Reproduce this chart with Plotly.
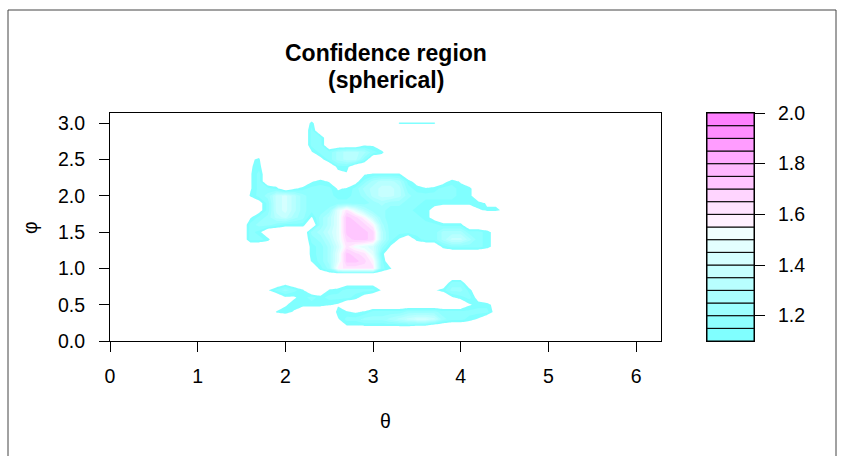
import math
import plotly.graph_objects as go

# ---- data -------------------------------------------------------------
# grid of the confidence statistic over theta (columns) and phi (rows)
theta_grid = [1.4, 1.5, 1.6, 1.7, 1.8, 1.9, 2.0, 2.1, 2.2, 2.3, 2.4, 2.5,
              2.6, 2.7, 2.8, 2.9, 3.0, 3.1, 3.2, 3.3, 3.4, 3.5, 3.6, 3.7,
              3.8, 3.9, 4.0, 4.1, 4.2, 4.3, 4.4, 4.5, 4.6, 4.7]
phi_grid = [3.1, 3.0, 2.9, 2.8, 2.7, 2.6, 2.5, 2.4, 2.3, 2.2, 2.1, 2.0,
            1.9, 1.8, 1.7, 1.6, 1.5, 1.4, 1.3, 1.2, 1.1, 1.0, 0.9, 0.8,
            0.7, 0.6, 0.5, 0.4, 0.3, 0.2, 0.1, 0.0]

# one character per grid value (rows listed from phi = 3.1 down to 0.0)
stat_rows = [
    "..................................",
    ".........a.........-----..........",
    ".........b........................",
    ".........bb.......................",
    ".........bb....::.................",
    "...,.....:bbdeedba................",
    "..:-......,bdeeb..................",
    "..:a........aa....................",
    "..:b........,:.:----..............",
    "..:b.....:a:..,bdeeda,..,a:.......",
    "..:bba.:abbb:-bdeffeba-abbaa......",
    "..-bcfgecbbbaabceffecbbbbbaa......",
    "...,bfgecbbbbbbbcdccbbaaaaaaa::...",
    "...,bfgecbbchkheccbbbaa,....:--:..",
    "..:bcefdc:cehmljfcbbbba,..........",
    "..bccbaaa.cehmmljdbbbbbbaaa.......",
    "..ba.....cdfhmmmlebbbbbbdddbba,...",
    "..bba....bcehlmmleb:.abbdffdba,...",
    ".........abdgkihgc:.....abbbba,...",
    ".........abdhmlkha................",
    ".........-bdhmmljb................",
    "..........acjkkkkb-...............",
    "............_____.................",
    "......,......,,,,........bb.......",
    "....:bcb-..-abbbb:.....:acca......",
    "......::ababbba,.........:ab,.....",
    "......:aaaa-:..............:aa,...",
    ".....-a:....a-:-bbbbccccbbbbbb,...",
    "............:bbcccdefggfcbba:.....",
    ".............::::::::,,...........",
    "..................................",
    "..................................",
]

stat_code = {"_": 0.85, ".": 1.00, ",": 1.06, ":": 1.09, "-": 1.11,
             "a": 1.13, "b": 1.17, "c": 1.22, "d": 1.27, "e": 1.32,
             "f": 1.37, "g": 1.42, "h": 1.47, "i": 1.52, "j": 1.57,
             "k": 1.62, "l": 1.67, "m": 1.72}

# filled-contour levels and their colours (cm.colors style)
levels = [1.10, 1.15, 1.20, 1.25, 1.30, 1.35, 1.40, 1.45, 1.50, 1.55,
          1.60, 1.65, 1.70, 1.75, 1.80, 1.85, 1.90, 1.95, 2.00]
level_colors = ["#80FFFF", "#8EFFFF", "#9CFFFF", "#AAFFFF", "#B8FFFF",
                "#C6FFFF", "#D5FFFF", "#E3FFFF", "#F1FFFF", "#FFF1FF",
                "#FFE3FF", "#FFD5FF", "#FFC6FF", "#FFB8FF", "#FFAAFF",
                "#FF9CFF", "#FF8EFF", "#FF80FF"]

x_ticks = [0, 1, 2, 3, 4, 5, 6]
y_ticks = [0.0, 0.5, 1.0, 1.5, 2.0, 2.5, 3.0]
key_ticks = [1.2, 1.4, 1.6, 1.8, 2.0]

# ---- build ------------------------------------------------------------
for row in stat_rows:
    assert len(row) == len(theta_grid), row
assert len(stat_rows) == len(phi_grid)

z = [[stat_code[ch] for ch in row] for row in stat_rows][::-1]
phi = phi_grid[::-1]

step = round(levels[1] - levels[0], 10)
n_bands = len(levels) + 1          # below first level .. above last level
band_colors = ["#FFFFFF"] + level_colors + [level_colors[-1]]
colorscale = [[k / (n_bands - 1), c] for k, c in enumerate(band_colors)]

FONT = "Liberation Sans, Arial, sans-serif"
W, H = 843, 456
ML, MR, MT, MB = 110, 89, 113, 115
PW, PH = W - ML - MR, H - MT - MB


def px_x(px):
    return (px - ML) / PW


def px_y(py):
    return (H - MB - py) / PH


fig = go.Figure()

fig.add_trace(go.Contour(
    x=theta_grid, y=phi, z=z,
    contours=dict(start=levels[0], end=levels[-1], size=step,
                  coloring="fill", showlines=False),
    line=dict(width=0, smoothing=0),
    colorscale=colorscale, showscale=False, hoverinfo="skip",
))

fig.add_trace(go.Bar(
    x=[0] * (len(levels) - 1),
    y=[round(hi - lo, 10) for lo, hi in zip(levels[:-1], levels[1:])],
    base=levels[:-1], width=1,
    marker=dict(color=level_colors, line=dict(color="black", width=1)),
    xaxis="x2", yaxis="y2", showlegend=False, hoverinfo="skip",
))

axis_common = dict(
    ticks="outside", ticklen=10, tickwidth=1, tickcolor="black",
    showline=True, mirror=True, linecolor="black", linewidth=1,
    showgrid=False, zeroline=False,
    tickfont=dict(family=FONT, size=19.5, color="black"),
)

fig.update_layout(
    width=W, height=H,
    margin=dict(l=ML, r=MR, t=MT, b=MB, pad=0),
    paper_bgcolor="white", plot_bgcolor="white",
    barmode="overlay", showlegend=False,
    font=dict(family=FONT, color="black"),
    xaxis=dict(domain=[0, px_x(661)], range=[0, 2 * math.pi],
               tickvals=x_ticks, ticklabelstandoff=8, **axis_common),
    yaxis=dict(domain=[0, 1], range=[0, math.pi],
               tickvals=y_ticks, ticktext=[f"{v:.1f}" for v in y_ticks],
               ticklabelstandoff=10, **axis_common),
    xaxis2=dict(domain=[px_x(707), 1], range=[-0.5, 0.5], anchor="y2",
                showticklabels=False, ticks="", showline=True, mirror=True,
                linecolor="black", linewidth=1, showgrid=False,
                zeroline=False),
    yaxis2=dict(domain=[0, 1], range=[levels[0], levels[-1]], anchor="x2",
                side="right", tickvals=key_ticks,
                ticktext=[f"{v:.1f}" for v in key_ticks],
                ticklabelstandoff=9, **axis_common),
)

title_font = dict(family=FONT, size=23, color="black")
label_font = dict(family=FONT, size=19.5, color="black")
fig.add_annotation(text="<b>Confidence region</b>", x=px_x(385.5), y=px_y(53),
                   xref="paper", yref="paper", showarrow=False,
                   font=title_font, xanchor="center", yanchor="middle")
fig.add_annotation(text="<b>(spherical)</b>", x=px_x(386), y=px_y(80),
                   xref="paper", yref="paper", showarrow=False,
                   font=title_font, xanchor="center", yanchor="middle")
fig.add_annotation(text="θ", x=px_x(385.5), y=px_y(421),
                   xref="paper", yref="paper", showarrow=False,
                   font=label_font, xanchor="center", yanchor="middle")
fig.add_annotation(text="φ", x=px_x(30), y=px_y(228), textangle=-90,
                   xref="paper", yref="paper", showarrow=False,
                   font=label_font, xanchor="center", yanchor="middle")

# outer frame around the figure
frame = dict(type="line", xref="paper", yref="paper",
             line=dict(color="#444444", width=1))
fig.add_shape(x0=px_x(8), x1=px_x(8), y0=px_y(470), y1=px_y(10), **frame)
fig.add_shape(x0=px_x(8), x1=px_x(836), y0=px_y(10), y1=px_y(10), **frame)
fig.add_shape(x0=px_x(836), x1=px_x(836), y0=px_y(470), y1=px_y(10), **frame)

fig.write_html("out.html")
